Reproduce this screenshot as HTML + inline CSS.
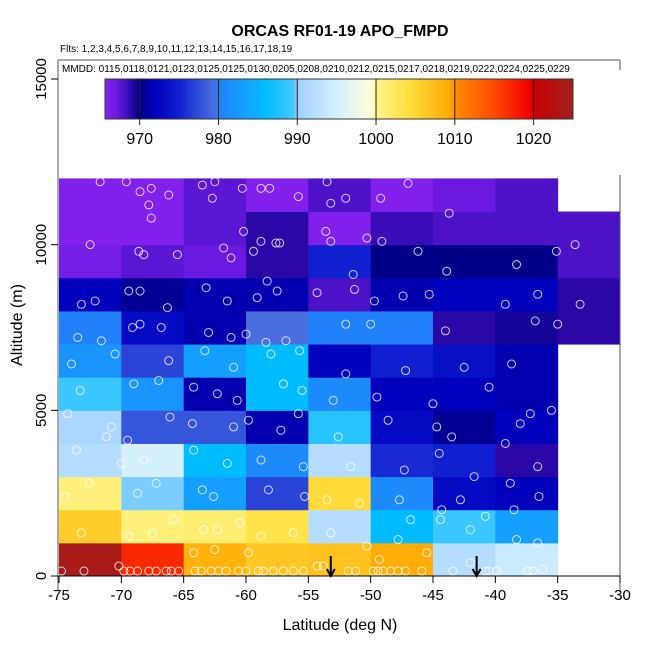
<!DOCTYPE html>
<html><head><meta charset="utf-8"><style>body{margin:0;background:#fff}svg{display:block;font-family:"Liberation Sans",sans-serif}</style></head>
<body>
<svg id="chart" width="650" height="650" viewBox="0 0 650 650">
<defs><linearGradient id="cbar" x1="0" x2="1" y1="0" y2="0"></linearGradient></defs>
<g id="cells"></g>
<g id="pts"></g>
<g id="arrows"></g>
<rect x="58" y="60" width="562" height="115" fill="#fff"/>
<path d="M58,60 L620,60 L620,70" fill="none" stroke="#555"/>
<g id="axes"></g>
<text x="62" y="72" font-size="10">MMDD: 0115,0118,0121,0123,0125,0125,0130,0205,0208,0210,0212,0215,0217,0218,0219,0222,0224,0225,0229</text>
<text x="60" y="52" font-size="10">Flts: 1,2,3,4,5,6,7,8,9,10,11,12,13,14,15,16,17,18,19</text>
<rect x="105" y="79" width="468" height="40" fill="url(#cbar)" stroke="#333"/>
<g id="cbticks"></g>
<text x="340" y="36" font-size="16" font-weight="bold" text-anchor="middle">ORCAS RF01-19 APO_FMPD</text>
<text x="340" y="630" font-size="16" text-anchor="middle">Latitude (deg N)</text>
<text transform="translate(22,325) rotate(-90)" font-size="16" text-anchor="middle">Altitude (m)</text>
</svg>
<script>
const latEdges=[-75,-70,-65,-60,-55,-50,-45,-40,-35,-30];
const row0=[1024,1017,1008.5,1006.5,1007,1009,992,994,null];
const row1=[1006,1001,1001.5,1003.5,992,986,989,983,null];
const row2=[1001,989.8,983,977,1004.5,981,973,972,null];
const row3=[992,995,986,981,992,975.5,975,969,null];
const row4=[991,978,978,971.5,988,973,970.5,972,null];
const row5=[989,982,971.5,986,981,972,972,971.5,null];
const row6=[982,977,983,986,972,975,973.5,971.5,null];
const row7=[980,973,971.5,979.5,980,980,969,969.5,969];
const row8=[972,970.5,971.5,971.5,968,971.5,972,972,969];
const row9=[966.5,967.5,967,969,975,970,970,970,968];
const row10=[966,966,967.5,969,966,968.5,968,968,968];
const row11=[966,966,967.5,966,968,966,967,968,null];
const rows=[row0,row1,row2,row3,row4,row5,row6,row7,row8,row9,row10,row11];
const cbTicks=[970,980,990,1000,1010,1020];
const ptLat=[-71.7,-69.6,-68.5,-67.6,-67.8,-66.2,-63.5,-62.5,-62.7,-60.3,-58.8,-58.1,-55.8,-52,-53.2,-49.2,-43.7,-53.5,-47,
-67.6,-72.5,-60.2,-58.8,-57.6,-57.3,-53.6,-53.2,-50.3,-49.1,
-68.6,-68.2,-65.5,-61.8,-61.2,-59.4,-58.3,-51.4,-46.2,-43.9,-38.3,-35.1,-33.6,
-73.2,-72.1,-69.4,-68.5,-66.3,-63.2,-61.5,-59.1,-57.5,-54.3,-51.3,-49.7,-47.4,-45.3,-39.2,-36.6,-33.2,
-73.5,-71.6,-69.1,-68.5,-66.8,-63,-61.2,-60,-58.4,-56.8,-52,-50,-44,-36.8,-35,
-74,-70.5,-66.2,-63.3,-61,-58,-55.7,-52,-47.2,-42.5,-38.7,
-73.3,-69,-67,-64.2,-62.3,-60.7,-57,-55.5,-53,-49.5,-45,-40.5,-37.2,-35.5,
-74.3,-70.8,-66.1,-64.3,-61,-59.8,-57.2,-55.8,-52.6,-48.6,-44.7,-43.5,-38,-39.2,-69.5,-71.2,
-73.6,-70,-68.2,-64.2,-61.5,-58.8,-55.4,-51.6,-47.3,-44.5,-41.7,-38.8,-36.6,
-74.5,-72.6,-68.7,-67.2,-63.5,-62.6,-58.2,-55.3,-53.5,-50.9,-47.7,-44.3,-42.8,-38.5,-36.5,
-73.2,-69.4,-67.5,-65.8,-63.4,-62.3,-60.5,-58.8,-56.2,-53.2,-50.3,-47.8,-46.8,-44.4,-42,-40.8,-38.3,
-74.8,-73,-69.8,-69.3,-68.7,-67.8,-67.2,-66.4,-66,-65.4,-64.1,-63.6,-62.8,-62.2,-61.6,-60.6,-60,-59,-58.6,-57.8,-57,-56.2,-55.4,-51.8,-51.2,-49.8,-49.4,-49,-48.4,-47.8,-47.2,-45.9,-43.4,-40.8,-40.5,-39.9,-37.4,-37,
-70.2,-64.2,-62.5,-59.8,-54.3,-53.8,-49.3,-45.5,-42,-36.6,-36.2];
const ptAlt=[11900,11900,11600,11700,11200,11500,11800,11900,11400,11700,11700,11700,11450,11400,11250,11400,10950,11900,11850,
10800,10000,10400,10100,10050,10050,10400,10100,10200,10100,
9800,9700,9700,9900,9600,9800,8900,9100,9800,9200,9400,9800,10000,
8200,8300,8600,8600,8100,8700,8300,8400,8600,8550,8650,8300,8450,8500,8200,8500,8200,
7200,7100,7500,7600,7500,7350,7200,7300,7050,7100,7600,7600,7400,7700,7600,
6400,6700,6500,6800,6300,6700,6800,6100,6200,6300,6400,
5600,5800,5900,5700,5500,5300,5800,5600,5300,5400,5200,5700,4900,5000,
4900,4500,4800,4600,4500,4700,4400,4900,4200,4700,4500,4200,4600,4000,4100,4200,
3800,3400,3500,3800,3400,3500,3300,3300,3200,3700,3000,2800,3300,
2400,2800,2500,2800,2600,2400,2600,2400,2300,2200,2300,2000,2300,2000,2400,
1300,1200,1300,1700,1400,1400,1600,1200,1300,1300,900,1100,1700,1700,1400,1800,1100,
150,150,150,150,150,150,150,150,150,150,150,150,150,150,150,150,150,150,150,150,150,150,150,150,150,150,150,150,150,150,150,150,150,150,150,150,150,150,
300,700,800,700,300,300,500,700,400,1000,200];
const arrowLat=[-53.2,-41.5];
const xTicks=[-75,-70,-65,-60,-55,-50,-45,-40,-35,-30];
const yTicks=[0,5000,10000,15000];

const NS='http://www.w3.org/2000/svg';
const X=v=>59+(v+75)*561/45;
const Y=v=>576-v*497/15000;
const CB=v=>105+(v-965.6)*468/(1025-965.6);
const stops=[[965.6,'#8B22F0'],[967,'#6A1AE0'],[968,'#4C12C8'],[969,'#2A08A8'],[970,'#000088'],[972,'#0000BC'],[975,'#1020D0'],[977,'#2A44D8'],[979.5,'#4A6EE0'],[980,'#2080F8'],[984,'#10A8FF'],[986,'#00BCFF'],[989.5,'#44C8FF'],[990,'#A0D0FF'],[995,'#D4F0FF'],[999.5,'#FFFFD8'],[1000,'#FFF590'],[1004,'#FFE040'],[1009.5,'#FFA800'],[1010,'#FF8C00'],[1015,'#FF4A00'],[1019.5,'#F00000'],[1020,'#C80000'],[1025,'#A02020']];
function hex(c){return [1,3,5].map(i=>parseInt(c.substr(i,2),16));}
function col(v){
  if(v<=stops[0][0])return stops[0][1];
  for(let i=1;i<stops.length;i++){if(v<=stops[i][0]){const a=stops[i-1],b=stops[i];const t=(v-a[0])/(b[0]-a[0]);const ca=hex(a[1]),cb=hex(b[1]);return 'rgb('+ca.map((x,k)=>Math.round(x+(cb[k]-x)*t)).join(',')+')';}}
  return stops[stops.length-1][1];
}
function mk(tag,attrs,parent){const e=document.createElementNS(NS,tag);for(const k in attrs)e.setAttribute(k,attrs[k]);parent.appendChild(e);return e;}
const grad=document.getElementById('cbar');
stops.forEach(s=>{mk('stop',{offset:((s[0]-965.6)/(1025-965.6)),'stop-color':s[1]},grad);});
const gc=document.getElementById('cells');
rows.forEach((r,ri)=>{r.forEach((v,ci)=>{if(v===null)return;
  const x0=X(latEdges[ci]),x1=X(latEdges[ci+1]),y0=Y((ri+1)*1000),y1=Y(ri*1000);
  const e=mk('rect',{x:x0,y:y0,width:x1-x0+0.5,height:y1-y0+0.5,fill:col(v)},gc);
  
  
});});
const gp=document.getElementById('pts');
ptLat.forEach((la,i)=>{const e=mk('circle',{cx:X(la),cy:Y(ptAlt[i]),r:4,fill:'none',stroke:'rgba(255,255,255,0.8)','stroke-width':1},gp);
  
  
});
const ga=document.getElementById('arrows');
arrowLat.forEach(la=>{const x=X(la);const e=mk('path',{d:`M${x},556 L${x},575 M${x-4},569 L${x},576 L${x+4},569`,stroke:'#000','stroke-width':2,fill:'none'},ga);
  
  
});
const ax=document.getElementById('axes');
mk('line',{x1:59,y1:576,x2:620,y2:576,stroke:'#000'},ax);
mk('line',{x1:58,y1:60,x2:58,y2:590,stroke:'#555'},ax);
mk('line',{x1:620,y1:175,x2:620,y2:590,stroke:'#555'},ax);
xTicks.forEach(t=>{const x=X(t);mk('line',{x1:x,y1:576,x2:x,y2:583,stroke:'#000'},ax);
  const e=mk('text',{x:x,y:600,'font-size':15,'text-anchor':'middle'},ax);e.textContent=t;
  
  
});
yTicks.forEach(t=>{const y=Y(t);mk('line',{x1:51,y1:y,x2:58,y2:y,stroke:'#000'},ax);
  const e=mk('text',{transform:`translate(46,${y}) rotate(-90)`,'font-size':15,'text-anchor':'middle'},ax);e.textContent=t;
  
  
});
const gt=document.getElementById('cbticks');
cbTicks.forEach(t=>{const x=CB(t);mk('line',{x1:x,y1:79,x2:x,y2:125,stroke:'#222'},gt);
  const e=mk('text',{x:x,y:144,'font-size':16,'text-anchor':'middle'},gt);e.textContent=t;
  
  
});
</script>
</body></html>
